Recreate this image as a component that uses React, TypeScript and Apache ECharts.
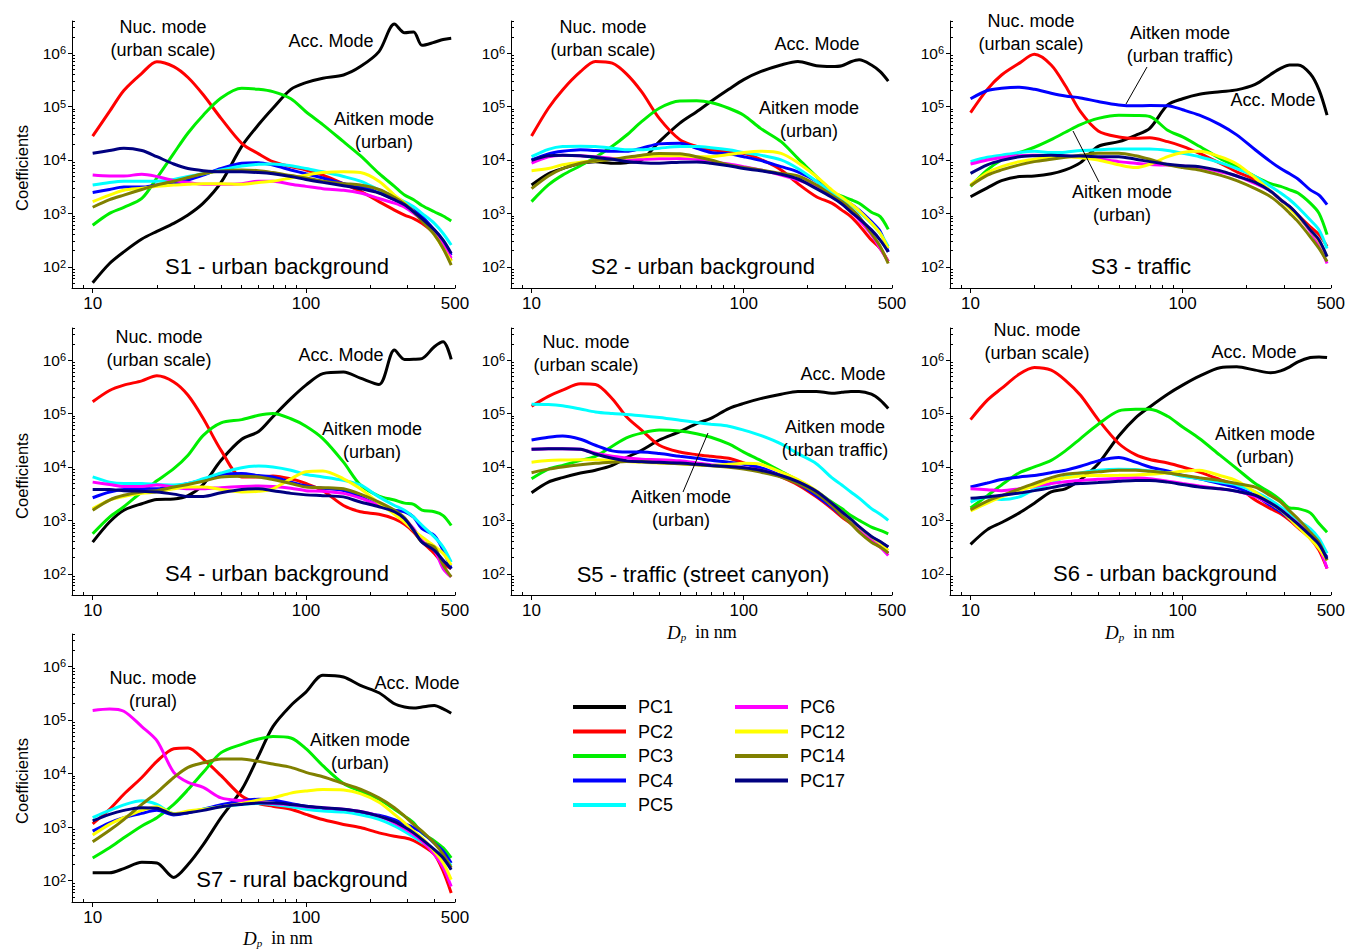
import React, { useEffect, useRef } from "react";
import * as echarts from "echarts";

// particle diameter grid (nm)
const D = [10, 12, 14, 17, 20, 24, 28, 33, 40, 50, 60, 70, 85, 100, 120, 150, 180, 220, 260, 290, 320, 350, 400, 440, 480];

const NAMES = ["PC1", "PC2", "PC3", "PC4", "PC5", "PC6", "PC12", "PC14", "PC17"];
const COLORS = ["#000000", "#ff0000", "#00ee00", "#0000ff", "#00ffff", "#ff00ff", "#ffff00", "#808000", "#000080"];

// ---------- S1 ----------
const S1_PC1 = [50, 115, 190, 330, 460, 650, 930, 1550, 3800, 1.8e4, 4.6e4, 9.3e4, 2.1e5, 2.8e5, 3.4e5, 3.9e5, 5.6e5, 1.07e6, 3.5e6, 2.4e6, 2.5e6, 1.4e6, 1.6e6, 1.8e6, 1.9e6];
const S1_PC2 = [2.8e4, 8.1e4, 2.0e5, 4.2e5, 6.9e5, 5.6e5, 3.5e5, 1.66e5, 6.0e4, 2.05e4, 1.3e4, 9300, 7500, 6500, 5200, 3600, 2600, 1660, 1150, 930, 800, 650, 420, 240, 130];
const S1_PC3 = [600, 1000, 1300, 1900, 4600, 1.33e4, 3.2e4, 6.9e4, 1.45e5, 2.2e5, 2.1e5, 1.9e5, 1.4e5, 8e4, 4.6e4, 2.2e4, 1.2e4, 5600, 3200, 2200, 1800, 1400, 1070, 890, 720];
const S1_PC4 = [2450, 2800, 3100, 3100, 3400, 3600, 4200, 5200, 6900, 8700, 8900, 8000, 6500, 5500, 4600, 3600, 3200, 2450, 1800, 1500, 1150, 870, 490, 300, 165];
const S1_PC5 = [3400, 3800, 4000, 4000, 4000, 4300, 4900, 5500, 6500, 7700, 8300, 8400, 7800, 6900, 6000, 4900, 4000, 2750, 2050, 1650, 1330, 1000, 650, 420, 255];
const S1_PC6 = [5200, 5000, 5000, 5400, 4900, 4100, 3800, 3500, 3500, 3600, 4000, 4000, 3500, 3200, 2900, 2700, 2400, 1900, 1550, 1300, 1000, 750, 460, 275, 145];
const S1_PC12 = [1660, 2200, 2700, 2950, 3200, 3400, 3500, 3600, 3600, 3500, 3800, 4000, 4600, 5200, 5800, 6000, 5800, 4000, 2200, 1550, 1070, 750, 400, 220, 125];
const S1_PC14 = [1300, 1800, 2200, 2800, 3400, 4000, 4700, 5500, 6200, 6500, 6300, 5800, 5100, 4600, 4000, 3600, 3400, 2800, 2000, 1500, 1070, 720, 400, 220, 107];
const S1_PC17 = [1.33e4, 1.5e4, 1.66e4, 1.5e4, 1.15e4, 8400, 6900, 6300, 6000, 6000, 5800, 5500, 4900, 4300, 3800, 3300, 2900, 2400, 1800, 1450, 1070, 800, 490, 316, 178];

// ---------- S2 ----------
const S2_PC1 = [3400, 5500, 6900, 8700, 9300, 8700, 8900, 1e4, 2.2e4, 4.9e4, 8e4, 1.24e5, 2.1e5, 3.2e5, 4.5e5, 6.0e5, 7.0e5, 5.8e5, 5.6e5, 5.8e5, 6.9e5, 7.5e5, 6.0e5, 4.5e5, 3.0e5];
const S2_PC2 = [2.8e4, 9.3e4, 2.05e5, 4.5e5, 7.0e5, 6.5e5, 4.1e5, 1.9e5, 6.0e4, 2.4e4, 1.8e4, 1.55e4, 1.45e4, 1.33e4, 1.03e4, 6500, 3600, 2050, 1550, 1150, 870, 600, 316, 220, 125];
const S2_PC3 = [1660, 3400, 5200, 7800, 1.12e4, 1.8e4, 2.9e4, 5.2e4, 9.3e4, 1.27e5, 1.28e5, 1.19e5, 9.3e4, 6.9e4, 3.9e4, 2.2e4, 1.07e4, 4900, 2500, 2100, 1800, 1550, 1050, 870, 500];
const S2_PC4 = [1e4, 1.3e4, 1.45e4, 1.55e4, 1.5e4, 1.45e4, 1.45e4, 1.66e4, 2.0e4, 2.05e4, 1.66e4, 1.38e4, 1.3e4, 1.15e4, 9800, 7500, 6000, 4000, 2450, 1800, 1500, 1150, 700, 460, 190];
const S2_PC5 = [1.15e4, 1.58e4, 1.78e4, 1.8e4, 1.78e4, 1.66e4, 1.55e4, 1.55e4, 1.66e4, 1.78e4, 1.78e4, 1.7e4, 1.55e4, 1.38e4, 1.23e4, 1e4, 6900, 4000, 2400, 1800, 1450, 1070, 650, 420, 240];
const S2_PC6 = [8700, 1.15e4, 1.23e4, 1.2e4, 1.15e4, 1.07e4, 1.03e4, 1.03e4, 1.05e4, 1.07e4, 1.03e4, 9300, 8400, 7500, 6500, 5200, 4200, 3200, 2050, 1550, 1070, 750, 400, 220, 125];
const S2_PC12 = [6300, 6900, 8100, 9100, 9600, 1.03e4, 1.1e4, 1.15e4, 1.2e4, 1.2e4, 1.15e4, 1.15e4, 1.26e4, 1.38e4, 1.45e4, 1.33e4, 8900, 4900, 2750, 2000, 1500, 1120, 650, 420, 220];
const S2_PC14 = [2900, 5000, 6900, 8700, 9800, 1.03e4, 1.12e4, 1.23e4, 1.32e4, 1.3e4, 1.15e4, 1e4, 8100, 7200, 6500, 5600, 5000, 3400, 2200, 1660, 1230, 870, 420, 240, 115];
const S2_PC17 = [9800, 1.2e4, 1.23e4, 1.2e4, 1.12e4, 1.03e4, 9400, 8900, 8700, 9100, 9200, 8700, 7800, 6900, 6300, 5400, 4400, 2900, 2000, 1500, 1070, 800, 490, 316, 190];

// ---------- S3 ----------
const S3_PC1 = [2050, 3000, 4100, 4900, 5000, 5500, 6500, 8900, 1.8e4, 2.2e4, 2.9e4, 3.9e4, 1.07e5, 1.4e5, 1.7e5, 1.9e5, 2.05e5, 2.6e5, 4.0e5, 5.2e5, 6.0e5, 6.0e5, 4.1e5, 2.05e5, 6.9e4];
const S3_PC2 = [7.7e4, 2.1e5, 3.9e5, 6.5e5, 9.5e5, 6.0e5, 2.45e5, 8e4, 3.5e4, 2.7e4, 2.55e4, 2.6e4, 2.2e4, 1.8e4, 1.33e4, 8700, 6000, 4200, 2600, 1800, 1330, 930, 560, 400, 240];
const S3_PC3 = [3200, 6500, 1e4, 1.38e4, 1.73e4, 2.4e4, 3.3e4, 4.6e4, 6.0e4, 6.9e4, 6.8e4, 6.5e4, 3.6e4, 2.7e4, 1.8e4, 1.07e4, 7500, 4900, 3600, 3200, 2750, 2400, 1550, 1000, 400];
const S3_PC4 = [1.4e5, 2.0e5, 2.2e5, 2.3e5, 2.1e5, 1.78e5, 1.58e5, 1.45e5, 1.24e5, 1.07e5, 1.03e5, 1.05e5, 1.04e5, 8.7e4, 6.9e4, 4.6e4, 2.95e4, 1.55e4, 9300, 6900, 5500, 4400, 2750, 2200, 1450];
const S3_PC5 = [9300, 1.12e4, 1.23e4, 1.38e4, 1.45e4, 1.38e4, 1.4e4, 1.5e4, 1.55e4, 1.6e4, 1.6e4, 1.6e4, 1.5e4, 1.33e4, 1.15e4, 8900, 6900, 4900, 3200, 2400, 1800, 1300, 750, 490, 220];
const S3_PC6 = [8400, 1e4, 1.1e4, 1.2e4, 1.22e4, 1.2e4, 1.17e4, 1.12e4, 1.04e4, 9300, 8700, 8200, 8000, 7700, 7200, 6000, 5000, 3600, 2600, 1800, 1300, 890, 460, 255, 115];
const S3_PC12 = [3400, 5800, 7500, 9300, 1.03e4, 1.12e4, 1.15e4, 1.1e4, 1e4, 8100, 7200, 8300, 1.15e4, 1.38e4, 1.45e4, 1.15e4, 8400, 4600, 2600, 1800, 1230, 870, 490, 300, 155];
const S3_PC14 = [3300, 5200, 6500, 8100, 9300, 1.03e4, 1.12e4, 1.22e4, 1.33e4, 1.33e4, 1.2e4, 1.03e4, 8100, 7200, 6500, 5200, 4100, 2900, 2050, 1450, 1000, 700, 365, 220, 125];
const S3_PC17 = [5600, 8100, 9800, 1.15e4, 1.2e4, 1.22e4, 1.2e4, 1.18e4, 1.15e4, 1.15e4, 1.03e4, 9300, 8300, 7800, 7500, 6300, 5000, 3800, 2600, 1800, 1330, 930, 490, 316, 155];

// ---------- S4 ----------
const S4_PC1 = [390, 930, 1550, 2050, 2450, 2500, 2900, 4700, 1.33e4, 3.3e4, 4.6e4, 8.7e4, 1.9e5, 3.4e5, 5.6e5, 6.0e5, 4.6e5, 3.5e5, 1.55e6, 1.03e6, 1.04e6, 1.07e6, 1.78e6, 2.2e6, 1.03e6];
const S4_PC2 = [1.66e5, 2.7e5, 3.4e5, 4.1e5, 5.1e5, 3.9e5, 2.2e5, 8.1e4, 2.05e4, 6500, 6500, 6800, 6000, 4900, 3600, 1900, 1450, 1300, 1070, 840, 600, 400, 240, 155, 125];
const S4_PC3 = [560, 1150, 1800, 3400, 5500, 9300, 1.66e4, 3.9e4, 6.7e4, 7.7e4, 9.3e4, 1.0e5, 8e4, 5.8e4, 3.4e4, 1.23e4, 4600, 2850, 2400, 2100, 2000, 1550, 1450, 1230, 800];
const S4_PC4 = [2650, 3400, 3800, 3900, 3900, 4300, 4900, 5800, 7200, 7500, 6900, 6500, 5200, 4400, 4000, 3600, 2750, 1900, 1550, 1450, 1150, 700, 520, 275, 125];
const S4_PC5 = [6500, 5200, 4900, 4900, 4700, 4600, 4900, 6000, 7700, 9700, 1.04e4, 1e4, 8700, 7200, 6500, 5600, 4600, 2750, 1900, 1550, 1150, 810, 490, 316, 165];
const S4_PC6 = [5200, 4700, 4300, 4300, 4600, 4200, 3900, 3900, 4100, 4300, 4400, 4300, 4000, 3600, 3500, 3200, 2600, 1900, 1450, 1070, 700, 420, 275, 125, 87];
const S4_PC12 = [1660, 2400, 2800, 3200, 3400, 3900, 4200, 4200, 3800, 3400, 3500, 3900, 6000, 8100, 8400, 6000, 3900, 2100, 1300, 930, 650, 490, 330, 240, 145];
const S4_PC14 = [1550, 2400, 2950, 3400, 3600, 4200, 4700, 5400, 6500, 6700, 6500, 5800, 4900, 4200, 4100, 3900, 3100, 2200, 1550, 1120, 650, 390, 316, 145, 87];
const S4_PC17 = [3800, 3800, 3600, 3500, 3400, 3100, 2800, 2800, 3300, 3800, 3900, 3600, 3200, 3000, 2900, 2750, 2200, 1800, 1450, 1070, 650, 390, 275, 178, 125];

// ---------- S5 ----------
const S5_PC1 = [3300, 5200, 6300, 7700, 8700, 1.07e4, 1.5e4, 2.05e4, 3.2e4, 4.6e4, 6.5e4, 8.1e4, 1.24e5, 1.55e5, 1.9e5, 2.3e5, 2.6e5, 2.6e5, 2.4e5, 2.5e5, 2.6e5, 2.6e5, 2.3e5, 1.78e5, 1.24e5];
const S5_PC2 = [1.37e5, 2.1e5, 2.75e5, 3.6e5, 3.5e5, 1.9e5, 8.7e4, 4.9e4, 2.55e4, 1.9e4, 1.7e4, 1.58e4, 1.45e4, 1.19e4, 9300, 6500, 4600, 2750, 1660, 1150, 870, 650, 420, 316, 240];
const S5_PC3 = [6000, 9100, 1.07e4, 1.33e4, 1.58e4, 2.45e4, 3.5e4, 4.3e4, 4.9e4, 4.7e4, 4.2e4, 3.6e4, 2.7e4, 1.9e4, 1.33e4, 8300, 5600, 3500, 2200, 1660, 1230, 1000, 750, 650, 560];
const S5_PC4 = [3.2e4, 3.6e4, 3.8e4, 3.3e4, 2.55e4, 2.0e4, 1.9e4, 1.9e4, 1.78e4, 1.58e4, 1.45e4, 1.33e4, 1.23e4, 1.12e4, 9700, 6900, 4900, 2900, 1780, 1230, 930, 700, 490, 390, 316];
const S5_PC5 = [1.5e5, 1.48e5, 1.4e5, 1.22e5, 1.07e5, 1e5, 9.6e4, 9.1e4, 8.4e4, 7.5e4, 6.8e4, 6.3e4, 5.8e4, 4.9e4, 3.9e4, 2.7e4, 1.78e4, 1.15e4, 6300, 4600, 3400, 2600, 1660, 1300, 1000];
const S5_PC6 = [2.15e4, 2.2e4, 2.2e4, 2.15e4, 1.8e4, 1.58e4, 1.48e4, 1.4e4, 1.37e4, 1.3e4, 1.19e4, 1.1e4, 1.04e4, 9700, 8700, 6900, 5200, 3400, 1900, 1330, 930, 650, 420, 316, 220];
const S5_PC12 = [1.23e4, 1.32e4, 1.35e4, 1.37e4, 1.37e4, 1.32e4, 1.26e4, 1.22e4, 1.19e4, 1.15e4, 1.1e4, 1.07e4, 1.12e4, 1.17e4, 1.12e4, 8000, 5800, 3600, 2100, 1450, 1030, 750, 490, 375, 275];
const S5_PC14 = [7800, 9100, 1e4, 1.1e4, 1.17e4, 1.23e4, 1.27e4, 1.26e4, 1.2e4, 1.15e4, 1.1e4, 1.05e4, 9900, 9100, 8000, 6500, 4900, 3200, 1900, 1230, 870, 600, 390, 316, 245];
const S5_PC17 = [2.15e4, 2.2e4, 2.2e4, 2.15e4, 1.75e4, 1.45e4, 1.3e4, 1.25e4, 1.22e4, 1.18e4, 1.12e4, 1.07e4, 1.02e4, 9700, 8700, 6900, 5300, 3500, 2100, 1450, 1050, 760, 500, 400, 316];

// ---------- S6 ----------
const S6_PC1 = [355, 670, 910, 1380, 2100, 3400, 3900, 5800, 1.15e4, 3.8e4, 8.3e4, 1.33e5, 2.3e5, 3.4e5, 5.0e5, 7.2e5, 7.5e5, 6.5e5, 5.8e5, 6.3e5, 7.5e5, 9.3e5, 1.12e6, 1.15e6, 1.12e6];
const S6_PC2 = [7.7e4, 1.78e5, 2.95e5, 5.5e5, 7.3e5, 6.5e5, 4.2e5, 2.2e5, 7.7e4, 2.75e4, 1.7e4, 1.38e4, 1.19e4, 1e4, 8000, 5800, 4400, 2400, 1660, 1330, 1000, 730, 460, 275, 125];
const S6_PC3 = [1700, 2900, 4600, 7800, 1e4, 1.33e4, 2e4, 3.4e4, 6.3e4, 1.12e5, 1.2e5, 1.2e5, 8.9e4, 5.6e4, 3.4e4, 1.66e4, 9300, 4900, 3300, 2400, 1700, 1660, 1380, 870, 600];
const S6_PC4 = [4200, 5000, 5800, 6500, 6900, 7800, 8700, 1.03e4, 1.3e4, 1.5e4, 1.23e4, 1e4, 8400, 6900, 6000, 4900, 4100, 2900, 1900, 1450, 1070, 800, 490, 325, 205];
const S6_PC5 = [2200, 2750, 2450, 2750, 3800, 4900, 6500, 7700, 8700, 9100, 9000, 8400, 7700, 6700, 6000, 5200, 4600, 3400, 2400, 1780, 1330, 1000, 700, 455, 240];
const S6_PC6 = [3900, 3750, 3600, 3900, 4300, 4900, 5300, 5600, 5900, 6100, 6300, 6000, 5400, 4900, 4400, 3900, 3500, 2800, 2050, 1580, 1150, 870, 520, 316, 125];
const S6_PC12 = [1500, 2100, 2750, 3600, 4400, 5600, 6300, 6800, 6900, 7000, 7100, 7300, 7700, 8300, 8700, 6900, 5500, 3400, 2100, 1550, 1070, 750, 455, 295, 178];
const S6_PC14 = [1580, 2300, 2900, 3900, 4900, 6300, 7300, 7700, 8100, 8700, 8700, 8300, 7700, 7000, 6300, 5600, 4900, 4200, 2900, 2200, 1500, 1070, 600, 390, 178];
const S6_PC17 = [2600, 2750, 2950, 3250, 3600, 4100, 4600, 4900, 5100, 5400, 5600, 5600, 5200, 4700, 4200, 3900, 3500, 2950, 2100, 1580, 1150, 850, 520, 355, 190];

// ---------- S7 ----------
const S7_PC1 = [140, 140, 168, 220, 213, 115, 200, 470, 1500, 5000, 2.15e4, 7.5e4, 1.86e5, 3.3e5, 6.8e5, 6.3e5, 4.4e5, 3.2e5, 2.0e5, 1.74e5, 1.66e5, 1.74e5, 1.86e5, 1.6e5, 1.33e5];
const S7_PC2 = [1150, 2150, 4100, 8400, 1.68e4, 2.9e4, 3.0e4, 1.86e4, 9100, 3800, 2750, 2450, 2150, 1730, 1380, 1120, 980, 780, 675, 630, 560, 460, 310, 150, 59];
const S7_PC3 = [265, 410, 630, 1050, 1500, 2650, 5000, 1.05e4, 2.45e4, 3.5e4, 4.4e4, 4.9e4, 4.6e4, 2.9e4, 1.4e4, 6500, 4700, 3300, 2150, 1600, 1200, 780, 550, 410, 265];
const S7_PC4 = [840, 1200, 1500, 1800, 2050, 1680, 1850, 2150, 2600, 3100, 3300, 3200, 2750, 2450, 2250, 2050, 1850, 1660, 1380, 1150, 970, 800, 500, 355, 213];
const S7_PC5 = [1500, 2050, 2600, 3100, 2650, 1780, 1900, 2150, 2400, 2650, 2750, 2650, 2400, 2150, 2000, 1900, 1700, 1400, 1050, 830, 650, 520, 370, 280, 190];
const S7_PC6 = [1.5e5, 1.6e5, 1.45e5, 7.5e4, 4.1e4, 1.05e4, 6800, 5500, 3500, 3100, 2900, 2750, 2600, 2400, 2300, 2150, 1950, 1600, 1200, 940, 725, 550, 310, 175, 78];
const S7_PC12 = [710, 1120, 1500, 2050, 2400, 1780, 2000, 2150, 2400, 2750, 3200, 3500, 4300, 4700, 5000, 4900, 4200, 2900, 1730, 1200, 840, 630, 355, 215, 105];
const S7_PC14 = [530, 870, 1380, 2650, 4400, 8400, 1.3e4, 1.58e4, 1.86e4, 1.86e4, 1.68e4, 1.5e4, 1.3e4, 1.05e4, 8700, 6500, 5100, 3500, 2300, 1600, 1120, 840, 500, 310, 175];
const S7_PC17 = [1300, 1730, 2050, 2300, 2250, 1730, 1850, 2050, 2400, 2650, 2800, 2800, 2650, 2450, 2300, 2150, 1950, 1600, 1260, 1000, 780, 590, 380, 265, 160];

const PANEL_SERIES = [
  [S1_PC1, S1_PC2, S1_PC3, S1_PC4, S1_PC5, S1_PC6, S1_PC12, S1_PC14, S1_PC17],
  [S2_PC1, S2_PC2, S2_PC3, S2_PC4, S2_PC5, S2_PC6, S2_PC12, S2_PC14, S2_PC17],
  [S3_PC1, S3_PC2, S3_PC3, S3_PC4, S3_PC5, S3_PC6, S3_PC12, S3_PC14, S3_PC17],
  [S4_PC1, S4_PC2, S4_PC3, S4_PC4, S4_PC5, S4_PC6, S4_PC12, S4_PC14, S4_PC17],
  [S5_PC1, S5_PC2, S5_PC3, S5_PC4, S5_PC5, S5_PC6, S5_PC12, S5_PC14, S5_PC17],
  [S6_PC1, S6_PC2, S6_PC3, S6_PC4, S6_PC5, S6_PC6, S6_PC12, S6_PC14, S6_PC17],
  [S7_PC1, S7_PC2, S7_PC3, S7_PC4, S7_PC5, S7_PC6, S7_PC12, S7_PC14, S7_PC17],
];

const X_MIN = 8;
const X_MAX = 500;
const Y_MIN = 40;
const Y_MAX = 4e6;
const X_LABELS = [10, 100, 500];
const X_MAJOR = [10, 100];
const X_MINOR = [8, 9, 20, 30, 40, 50, 60, 70, 80, 90, 200, 300, 400, 500];
const Y_LABELS = [1e2, 1e3, 1e4, 1e5, 1e6];

const PANEL_TITLES = [
  "S1 - urban background",
  "S2 - urban background",
  "S3 - traffic",
  "S4 - urban background",
  "S5 - traffic (street canyon)",
  "S6 - urban background",
  "S7 - rural background",
];

const FONT = "Liberation Sans, Arial, Helvetica, sans-serif";
const SERIF = "Liberation Serif, Times New Roman, serif";

const COL_LEFT = [72, 511, 950];
const COL_WIDTH = [383, 381, 382];
const ROW_TOP = [21, 328, 634];
const ROW_HEIGHT = [267, 267, 268];

function yMinorTicks() {
  const out: number[] = [];
  for (let e = 1; e <= 6; e++) {
    for (let m = 2; m <= 9; m++) {
      const v = m * Math.pow(10, e);
      if (v > Y_MIN && v <= Y_MAX) out.push(v);
    }
  }
  return out;
}

function buildOption() {
  const grid: any[] = [];
  const xAxis: any[] = [];
  const yAxis: any[] = [];
  const series: any[] = [];
  const yMinor = yMinorTicks();

  PANEL_SERIES.forEach((panel, p) => {
    const row = Math.floor(p / 3);
    const col = p % 3;
    grid.push({
      left: COL_LEFT[col],
      top: ROW_TOP[row],
      width: COL_WIDTH[col],
      height: ROW_HEIGHT[row],
      containLabel: false,
    });
    xAxis.push({
      type: "log",
      logBase: 10,
      gridIndex: p,
      position: "bottom",
      min: X_MIN,
      max: X_MAX,
      axisLine: { show: true, onZero: false, lineStyle: { color: "#000", width: 1 } },
      axisTick: { show: true, inside: false, length: 5, customValues: X_MAJOR, lineStyle: { color: "#000" } },
      axisLabel: {
        show: true,
        customValues: X_LABELS,
        margin: 7,
        fontSize: 17,
        fontFamily: FONT,
        color: "#000",
        formatter: (v: number) => String(Math.round(v)),
      },
      splitLine: { show: false },
    });
    xAxis.push({
      type: "log",
      logBase: 10,
      gridIndex: p,
      position: "bottom",
      min: X_MIN,
      max: X_MAX,
      axisLine: { show: false, onZero: false },
      axisTick: { show: true, inside: true, length: 3, customValues: X_MINOR, lineStyle: { color: "#000" } },
      axisLabel: { show: false },
      splitLine: { show: false },
    });
    yAxis.push({
      type: "log",
      logBase: 10,
      gridIndex: p,
      position: "left",
      min: Y_MIN,
      max: Y_MAX,
      axisLine: { show: true, onZero: false, lineStyle: { color: "#000", width: 1 } },
      axisTick: { show: true, inside: false, length: 4, customValues: Y_LABELS, lineStyle: { color: "#000" } },
      axisLabel: {
        show: true,
        customValues: Y_LABELS,
        margin: 6,
        color: "#000",
        formatter: (v: number) => "{b|10}{s|" + Math.round(Math.log10(v)) + "}",
        rich: {
          b: { fontSize: 15.5, fontFamily: FONT, color: "#000", lineHeight: 17 },
          s: { fontSize: 11, fontFamily: FONT, color: "#000", lineHeight: 11, verticalAlign: "top" },
        },
      },
      splitLine: { show: false },
    });
    yAxis.push({
      type: "log",
      logBase: 10,
      gridIndex: p,
      position: "left",
      min: Y_MIN,
      max: Y_MAX,
      axisLine: { show: false, onZero: false },
      axisTick: { show: true, inside: true, length: 3, customValues: yMinor, lineStyle: { color: "#000" } },
      axisLabel: { show: false },
      splitLine: { show: false },
    });

    panel.forEach((vals, k) => {
      series.push({
        type: "line",
        name: NAMES[k],
        xAxisIndex: 2 * p,
        yAxisIndex: 2 * p,
        data: D.map((d, i) => [d, vals[i]]),
        symbol: "none",
        showSymbol: false,
        smooth: 0.3,
        silent: true,
        lineStyle: { color: COLORS[k], width: 3 },
        itemStyle: { color: COLORS[k] },
        emphasis: { disabled: true },
      });
    });
  });

  const txt = (text: string, x: number, y: number, size = 18) => ({
    type: "text",
    x,
    y,
    z: 100,
    style: {
      text,
      fontSize: size,
      fontFamily: FONT,
      fill: "#000",
      align: "center",
      verticalAlign: "middle",
      lineHeight: 23,
    },
  });
  const ln = (x1: number, y1: number, x2: number, y2: number) => ({
    type: "line",
    z: 100,
    shape: { x1, y1, x2, y2 },
    style: { stroke: "#000", lineWidth: 1 },
  });
  const coef = (y: number) => ({
    type: "text",
    x: 22,
    y,
    rotation: Math.PI / 2,
    z: 100,
    style: {
      text: "Coefficients",
      fontSize: 16.5,
      fontFamily: FONT,
      fill: "#000",
      align: "center",
      verticalAlign: "middle",
    },
  });
  const dp = (x: number, y: number) => ({
    type: "text",
    x,
    y,
    z: 100,
    style: {
      text: "{d|D}{p|p}{t|  in nm}",
      align: "left",
      verticalAlign: "middle",
      rich: {
        d: { fontFamily: SERIF, fontStyle: "italic", fontSize: 19, lineHeight: 20, fill: "#000" },
        p: { fontFamily: SERIF, fontStyle: "italic", fontSize: 11, lineHeight: 6, verticalAlign: "bottom", fill: "#000" },
        t: { fontFamily: SERIF, fontSize: 18, lineHeight: 20, fill: "#000" },
      },
    },
  });

  const graphic: any[] = [
    txt("Nuc. mode\n(urban scale)", 163, 38.5),
    txt("Acc. Mode", 331, 41),
    txt("Aitken mode\n(urban)", 384, 130),
    txt(PANEL_TITLES[0], 277, 266, 22),
    txt("Nuc. mode\n(urban scale)", 603, 38.5),
    txt("Acc. Mode", 817, 44),
    txt("Aitken mode\n(urban)", 809, 119),
    txt(PANEL_TITLES[1], 703, 266, 22),
    txt("Nuc. mode\n(urban scale)", 1031, 32.5),
    txt("Aitken mode\n(urban traffic)", 1180, 44.5),
    txt("Acc. Mode", 1273, 100),
    txt("Aitken mode\n(urban)", 1122, 203.5),
    txt(PANEL_TITLES[2], 1141, 266, 22),
    ln(1147, 67, 1126, 104),
    ln(1073, 131, 1099, 182),
    txt("Nuc. mode\n(urban scale)", 159, 348.5),
    txt("Acc. Mode", 341, 355),
    txt("Aitken mode\n(urban)", 372, 440.5),
    txt(PANEL_TITLES[3], 277, 573, 22),
    txt("Nuc. mode\n(urban scale)", 586, 353.5),
    txt("Acc. Mode", 843, 374),
    txt("Aitken mode\n(urban traffic)", 835, 438),
    txt("Aitken mode\n(urban)", 681, 508.5),
    txt(PANEL_TITLES[4], 703, 574, 22),
    ln(708, 433, 683, 492),
    txt("Nuc. mode\n(urban scale)", 1037, 341.5),
    txt("Acc. Mode", 1254, 352),
    txt("Aitken mode\n(urban)", 1265, 445.5),
    txt(PANEL_TITLES[5], 1165, 573, 22),
    txt("Nuc. mode\n(rural)", 153, 689.5),
    txt("Acc. Mode", 417, 683),
    txt("Aitken mode\n(urban)", 360, 751.5),
    txt(PANEL_TITLES[6], 302, 879, 22),
    coef(168),
    coef(476),
    coef(781),
    dp(667, 632),
    dp(1105, 632),
    dp(243, 938),
  ];

  const legendBase = {
    orient: "vertical",
    top: 693,
    itemWidth: 53,
    itemHeight: 4,
    itemGap: 6.5,
    icon: "rect",
    selectedMode: false,
    textStyle: { fontSize: 18, fontFamily: FONT, color: "#000", padding: [0, 0, 0, 7] },
  };

  return {
    animation: false,
    backgroundColor: "#ffffff",
    textStyle: { fontFamily: FONT },
    grid,
    xAxis,
    yAxis,
    series,
    graphic,
    legend: [
      { ...legendBase, left: 568, data: ["PC1", "PC2", "PC3", "PC4", "PC5"] },
      { ...legendBase, left: 730, data: ["PC6", "PC12", "PC14", "PC17"] },
    ],
  };
}

export default function App() {
  const ref = useRef<HTMLDivElement>(null);
  useEffect(() => {
    if (!ref.current) return;
    const chart = echarts.init(ref.current, undefined, { renderer: "svg" });
    chart.setOption(buildOption() as any);
    return () => chart.dispose();
  }, []);
  return (
    <div
      ref={ref}
      style={{ position: "fixed", left: 0, top: 0, width: "1348px", height: "950px", background: "#fff" }}
    />
  );
}
